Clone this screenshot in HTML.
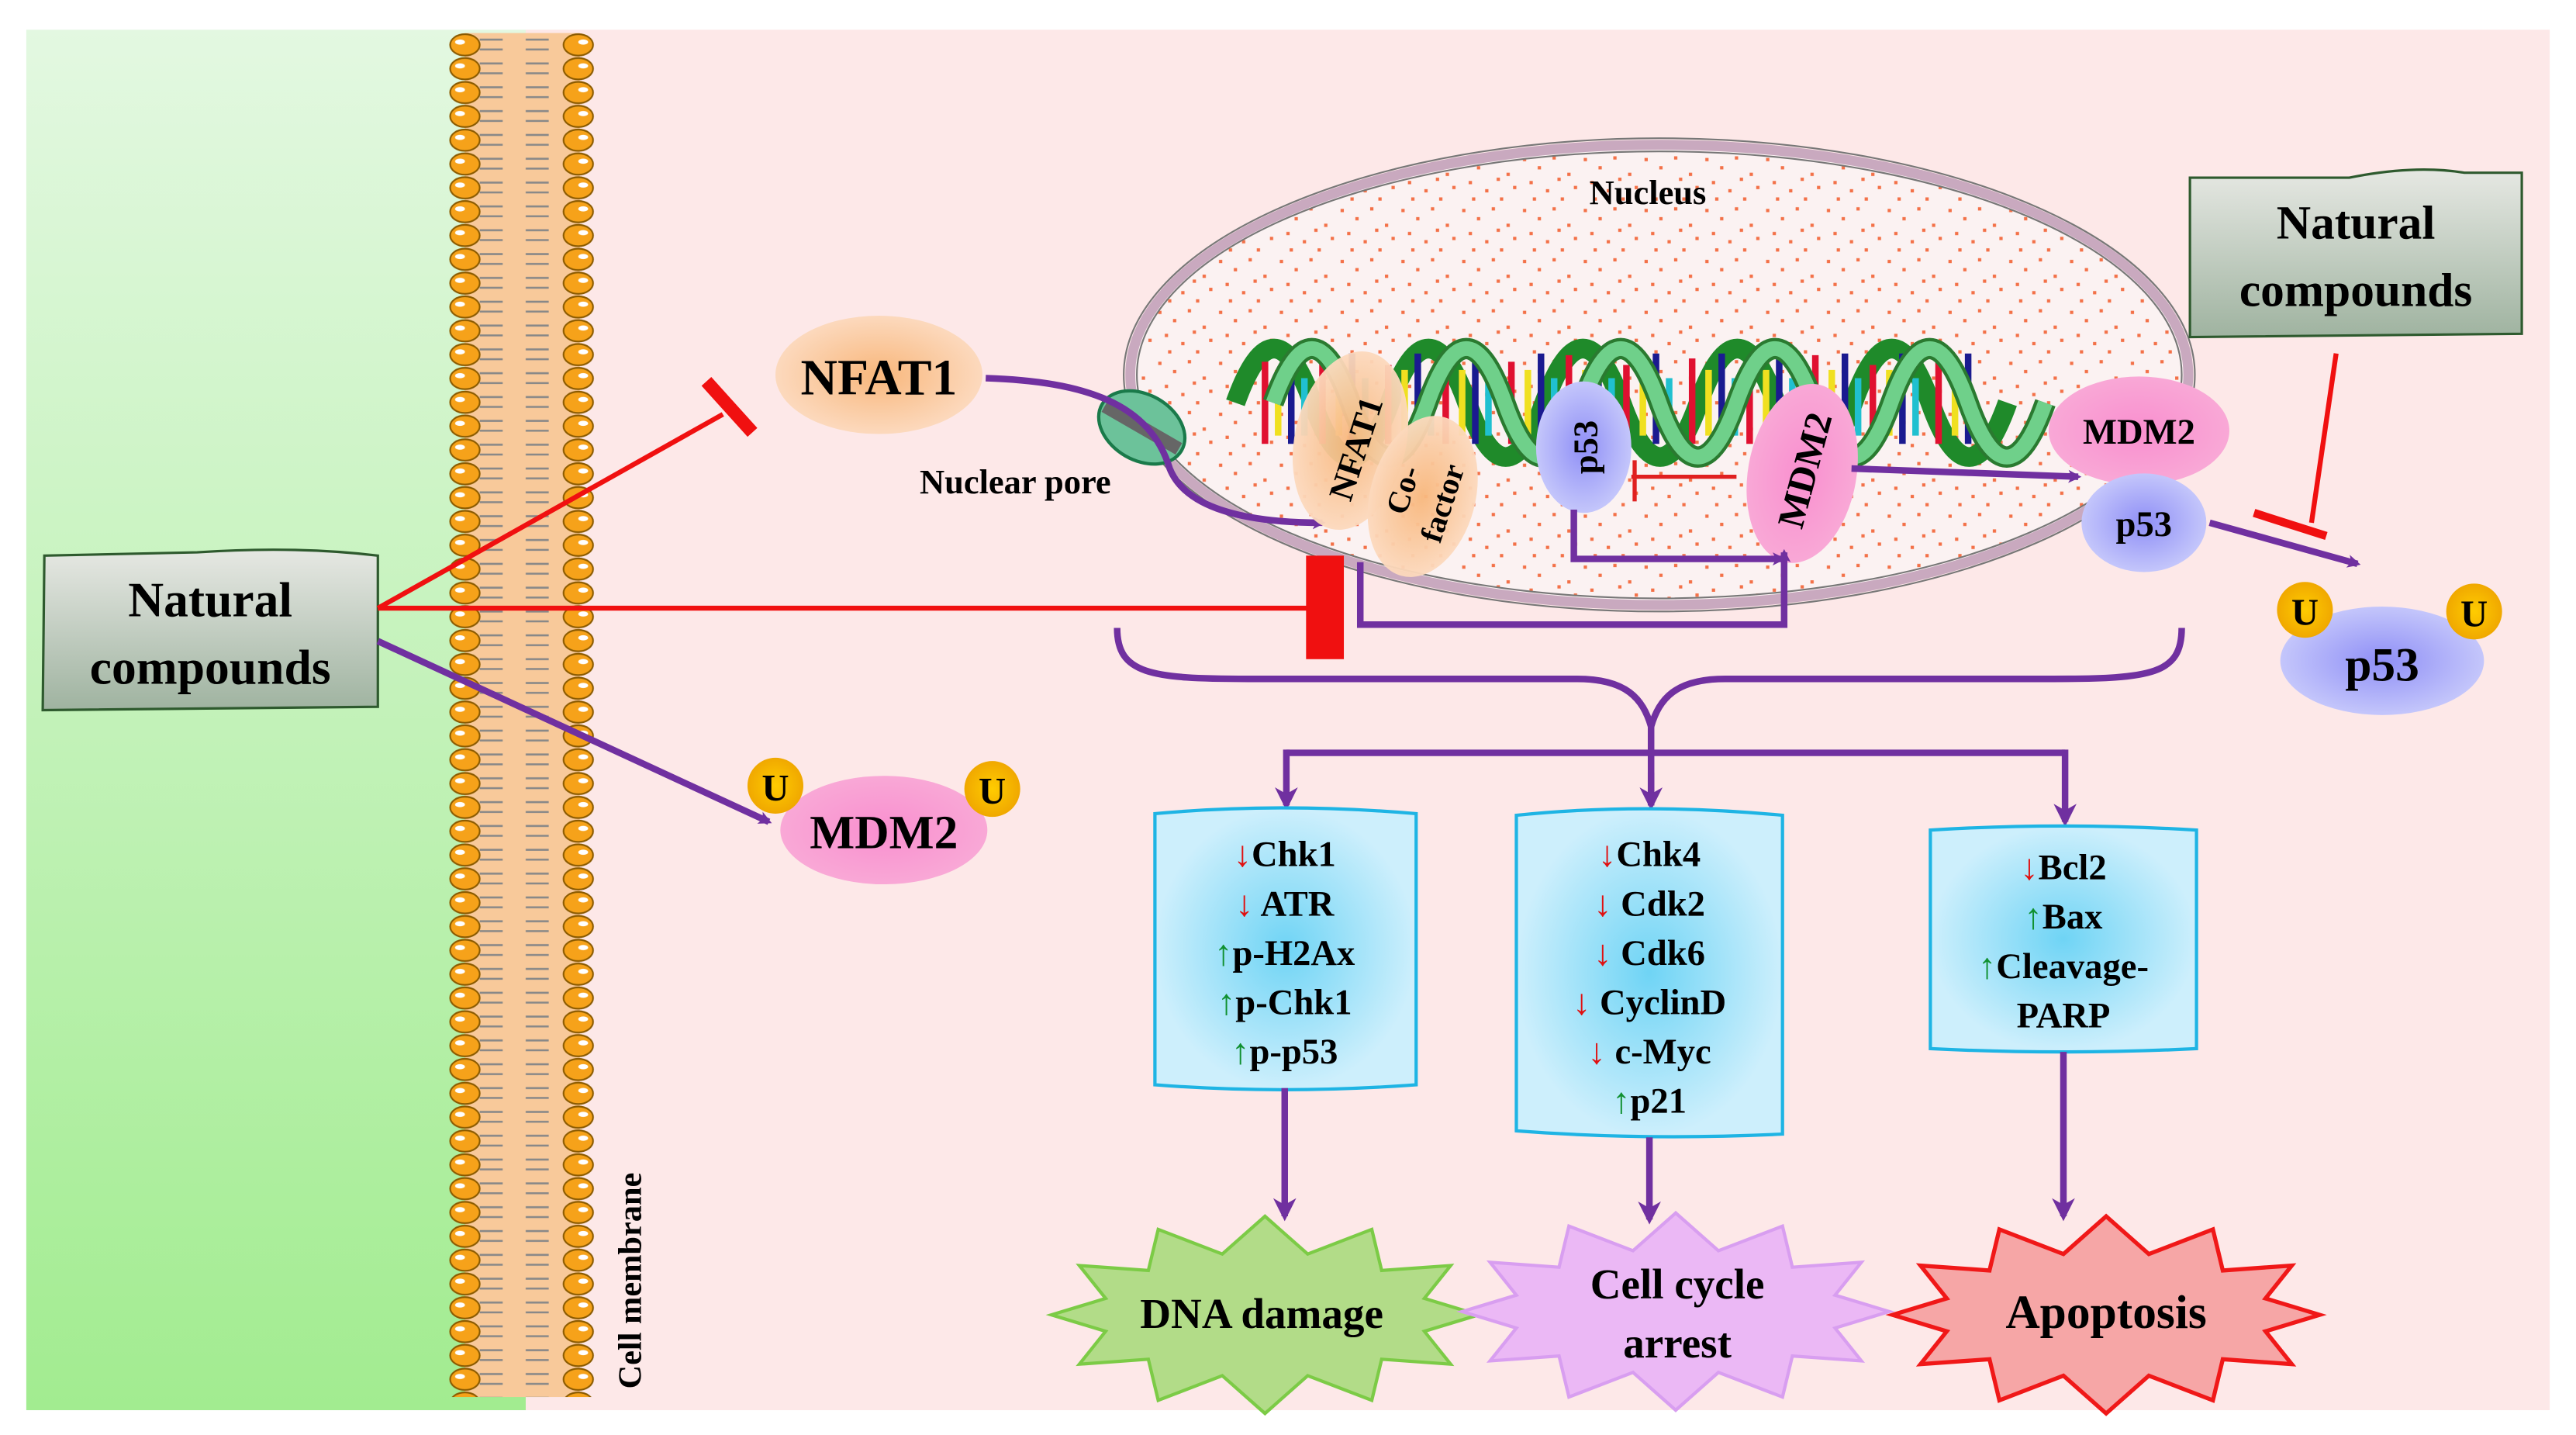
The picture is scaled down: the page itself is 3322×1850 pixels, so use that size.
<!DOCTYPE html>
<html><head><meta charset="utf-8"><style>
html,body{margin:0;padding:0;background:#fff}
svg{display:block}
text{font-family:"Liberation Serif",serif;font-weight:bold;fill:#000}
</style></head><body>
<svg width="3322" height="1850" viewBox="0 0 1568 873" xmlns="http://www.w3.org/2000/svg">
<defs>
<linearGradient id="gbg" x1="0" y1="0" x2="0" y2="1"><stop offset="0" stop-color="#e3f8e1"/><stop offset="1" stop-color="#a2ec90"/></linearGradient>
<linearGradient id="gbox" x1="0" y1="0" x2="0" y2="1"><stop offset="0" stop-color="#e6e8e3"/><stop offset="1" stop-color="#9fb3a0"/></linearGradient>
<radialGradient id="gpeach"><stop offset="0" stop-color="#f8b77c"/><stop offset="1" stop-color="#fcd9bd"/></radialGradient>
<radialGradient id="gpink"><stop offset="0" stop-color="#f98fcf"/><stop offset="1" stop-color="#f9a8d6"/></radialGradient>
<radialGradient id="gblue"><stop offset="0" stop-color="#8f8ff6"/><stop offset="1" stop-color="#c4c6fb"/></radialGradient>
<radialGradient id="gcyan"><stop offset="0" stop-color="#6fd4f5"/><stop offset="1" stop-color="#cdeffc"/></radialGradient>
<radialGradient id="ggold"><stop offset="0" stop-color="#ffcc00"/><stop offset="1" stop-color="#f0a800"/></radialGradient>
<pattern id="mem" x="272" y="20" width="100" height="14.5" patternUnits="userSpaceOnUse">
<rect x="11" y="0" width="70" height="14.5" fill="#f8c99a"/>
<path d="M20 4h14M20 10h14M48 4h14M48 10h14" stroke="#888" stroke-width="1.2" fill="none"/>
<ellipse cx="11" cy="7.2" rx="9" ry="6.5" fill="#f6a21a" stroke="#8a5a00" stroke-width="1"/>
<ellipse cx="80" cy="7.2" rx="9" ry="6.5" fill="#f6a21a" stroke="#8a5a00" stroke-width="1"/>
<ellipse cx="8" cy="5.5" rx="3" ry="1.6" fill="#fff"/>
<ellipse cx="83" cy="5.5" rx="3" ry="1.6" fill="#fff"/>
</pattern>
<pattern id="dots" x="0" y="0" width="37" height="31" patternUnits="userSpaceOnUse">
<g fill="#f25a2a">
<rect x="2" y="3" width="2" height="2"/><rect x="11" y="8" width="2" height="2"/><rect x="20" y="2" width="2" height="2"/><rect x="29" y="12" width="2" height="2"/>
<rect x="6" y="17" width="2" height="2"/><rect x="16" y="22" width="2" height="2"/><rect x="25" y="27" width="2" height="2"/><rect x="33" y="20" width="2" height="2"/>
<rect x="8" y="27" width="2" height="2"/><rect x="23" y="15" width="2" height="2"/>
</g>
</pattern>
<marker id="ap" markerWidth="8" markerHeight="8" refX="6" refY="4" orient="auto" markerUnits="userSpaceOnUse" viewBox="0 0 8 8"><path d="M0,0 L8,4 L0,8 L2,4z" fill="#7030a0"/></marker>
<marker id="ap2" markerWidth="14" markerHeight="14" refX="11" refY="7" orient="auto" markerUnits="userSpaceOnUse"><path d="M0,0 L14,7 L0,14 L4,7z" fill="#7030a0"/></marker>
</defs>

<rect x="0" y="0" width="1568" height="873" fill="#fff"/>
<rect x="16" y="18" width="330" height="840" fill="url(#gbg)"/>
<rect x="320" y="18" width="1232" height="840" fill="#fde8e8"/>
<rect x="272" y="20" width="100" height="830" fill="url(#mem)"/>
<text transform="translate(390,845) rotate(-90)" font-size="20">Cell membrane</text>

<!-- nucleus -->
<ellipse cx="1010" cy="228" rx="322" ry="140" fill="#fbf2f2" stroke="#c9a9bf" stroke-width="6"/>
<ellipse cx="1010" cy="228" rx="318" ry="136" fill="url(#dots)" opacity="0.85"/>
<ellipse cx="1010" cy="228" rx="326" ry="144" fill="none" stroke="#777" stroke-width="1"/>
<ellipse cx="1010" cy="228" rx="318" ry="136" fill="none" stroke="#777" stroke-width="1"/>
<text x="1003" y="124" font-size="21" text-anchor="middle">Nucleus</text>

<!-- DNA -->
<g>
<path d="M752,245 q23.5,-66 47,0 t47,0 t47,0 t47,0 t47,0 t47,0 t47,0 t47,0 t47,0 t47,0" fill="none" stroke="#1f8a2a" stroke-width="12"/>
<g stroke-width="4">
<path d="M770 220v50M805 215v55M845 222v48M880 218v52M920 220v50M955 216v54M990 222v48M1030 218v52M1065 220v50M1105 216v54M1140 222v48M1180 218v52" stroke="#e01030"/>
<path d="M778 225v40M815 225v40M855 225v40M890 225v40M930 225v40M965 225v40M1000 225v40M1040 225v40M1075 225v40M1115 225v40M1150 225v40M1190 225v40" stroke="#f0e020"/>
<path d="M786 215v55M823 215v55M863 215v55M898 215v55M938 215v55M973 215v55M1008 215v55M1048 215v55M1083 215v55M1123 215v55M1158 215v55M1198 215v55" stroke="#1a1a90"/>
<path d="M794 230v35M831 230v35M871 230v35M906 230v35M946 230v35M981 230v35M1016 230v35M1056 230v35M1091 230v35M1131 230v35M1166 230v35" stroke="#20c0d0"/>
</g>
<path d="M775,245 q23.5,-66 47,0 t47,0 t47,0 t47,0 t47,0 t47,0 t47,0 t47,0 t47,0 t47,0" fill="none" stroke="#2a7a30" stroke-width="13"/>
<path d="M775,245 q23.5,-66 47,0 t47,0 t47,0 t47,0 t47,0 t47,0 t47,0 t47,0 t47,0 t47,0" fill="none" stroke="#6fd08a" stroke-width="9"/>
</g>

<!-- nuclear pore -->
<g transform="translate(695,260) rotate(30)">
<ellipse cx="0" cy="0" rx="28" ry="20" fill="#6cc29a" stroke="#1a7a4a" stroke-width="2"/>
<rect x="-26" y="-4" width="52" height="8" fill="#666"/>
</g>
<text x="618" y="300" font-size="21" text-anchor="middle">Nuclear pore</text>

<!-- NFAT1 -->
<ellipse cx="535" cy="228" rx="63" ry="36" fill="url(#gpeach)"/>
<text x="535" y="240" font-size="31" text-anchor="middle">NFAT1</text>
<path d="M600,230 C660,232 700,245 712,285 C722,310 760,318 805,318" fill="none" stroke="#7030a0" stroke-width="4" marker-end="url(#ap)"/>

<ellipse cx="822" cy="268" rx="34" ry="55" fill="url(#gpeach)" opacity="0.95" transform="rotate(12 822 268)"/>
<text transform="translate(832,275) rotate(-72)" font-size="21" text-anchor="middle">NFAT1</text>
<ellipse cx="866" cy="302" rx="32" ry="50" fill="url(#gpeach)" opacity="0.95" transform="rotate(15 866 302)"/>
<text transform="translate(860,300) rotate(-72)" font-size="19" text-anchor="middle">Co-</text>
<text transform="translate(884,308) rotate(-72)" font-size="19" text-anchor="middle">factor</text>

<ellipse cx="964" cy="272" rx="29" ry="40" fill="url(#gblue)"/>
<text transform="translate(972,272) rotate(-90)" font-size="21" text-anchor="middle">p53</text>
<path d="M993,290 h64 M995,280v25" stroke="#e02020" stroke-width="2.5"/>
<ellipse cx="1097" cy="288" rx="33" ry="55" fill="url(#gpink)" transform="rotate(10 1097 288)"/>
<text transform="translate(1106,288) rotate(-75)" font-size="23" text-anchor="middle">MDM2</text>

<path d="M958,310 V340 H1085" fill="none" stroke="#7030a0" stroke-width="4" marker-end="url(#ap)"/>
<path d="M828,342 V380 H1086 V336" fill="none" stroke="#7030a0" stroke-width="4" marker-end="url(#ap)"/>
<path d="M1127,285 L1265,290" fill="none" stroke="#7030a0" stroke-width="4" marker-end="url(#ap)"/>

<ellipse cx="1302" cy="262" rx="55" ry="33" fill="url(#gpink)"/>
<text x="1302" y="270" font-size="22" text-anchor="middle">MDM2</text>
<ellipse cx="1305" cy="318" rx="38" ry="30" fill="url(#gblue)"/>
<text x="1305" y="326" font-size="22" text-anchor="middle">p53</text>
<path d="M1345,318 L1435,343" stroke="#7030a0" stroke-width="4" marker-end="url(#ap)"/>

<!-- right natural compounds -->
<path d="M1333,108 L1430,108 Q1470,100 1500,105 L1535,105 L1535,203 L1333,205 Z" fill="url(#gbox)" stroke="#2e5a2e" stroke-width="1.5"/>
<text x="1434" y="145" font-size="29" text-anchor="middle">Natural</text>
<text x="1434" y="186" font-size="29" text-anchor="middle">compounds</text>
<path d="M1422,215 L1407,318" stroke="#f01010" stroke-width="3"/>
<path d="M1372,312 L1416,326" stroke="#f01010" stroke-width="5"/>

<ellipse cx="1450" cy="402" rx="62" ry="33" fill="url(#gblue)"/>
<text x="1450" y="414" font-size="29" text-anchor="middle">p53</text>
<circle cx="1403" cy="371" r="17" fill="url(#ggold)"/><text x="1403" y="380" font-size="23" text-anchor="middle">U</text>
<circle cx="1506" cy="372" r="17" fill="url(#ggold)"/><text x="1506" y="381" font-size="23" text-anchor="middle">U</text>

<!-- left natural compounds -->
<path d="M27,338 L120,336 Q180,332 230,338 L230,430 L26,432 Z" fill="url(#gbox)" stroke="#2e5a2e" stroke-width="1.5"/>
<text x="128" y="375" font-size="30" text-anchor="middle">Natural</text>
<text x="128" y="416" font-size="30" text-anchor="middle">compounds</text>
<path d="M230,370 L440,252" stroke="#f01010" stroke-width="3"/>
<path d="M430,232 L458,263" stroke="#f01010" stroke-width="8"/>
<path d="M230,370 L800,370" stroke="#f01010" stroke-width="3"/>
<rect x="795" y="338" width="23" height="63" fill="#f01010"/>
<path d="M230,390 L468,500" stroke="#7030a0" stroke-width="4" marker-end="url(#ap)"/>

<ellipse cx="538" cy="505" rx="63" ry="33" fill="url(#gpink)"/>
<text x="538" y="516" font-size="29" text-anchor="middle">MDM2</text>
<circle cx="472" cy="478" r="17" fill="url(#ggold)"/><text x="472" y="487" font-size="23" text-anchor="middle">U</text>
<circle cx="604" cy="480" r="17" fill="url(#ggold)"/><text x="604" y="489" font-size="23" text-anchor="middle">U</text>

<!-- brace -->
<path d="M680,382 C680,410 700,413 760,413 L960,413 C990,413 1000,425 1005,442 C1010,425 1020,413 1050,413 L1250,413 C1310,413 1328,410 1328,382" fill="none" stroke="#7030a0" stroke-width="4"/>
<path d="M1005,440 V490 M783,458 H1257" stroke="#7030a0" stroke-width="4" fill="none"/>
<path d="M783,456 V490" stroke="#7030a0" stroke-width="4" marker-end="url(#ap2)"/>
<path d="M1005,470 V490" stroke="#7030a0" stroke-width="4" marker-end="url(#ap2)"/>
<path d="M1257,456 V500" stroke="#7030a0" stroke-width="4" marker-end="url(#ap2)"/>

<!-- boxes -->
<path d="M703,495 Q780,488 862,495 L862,660 Q780,666 703,660 Z" fill="url(#gcyan)" stroke="#1eb4e4" stroke-width="2"/>
<path d="M923,496 Q1000,488 1085,496 L1085,690 Q1000,694 923,688 Z" fill="url(#gcyan)" stroke="#1eb4e4" stroke-width="2"/>
<path d="M1175,505 Q1255,500 1337,505 L1337,638 Q1255,642 1175,638 Z" fill="url(#gcyan)" stroke="#1eb4e4" stroke-width="2"/>
<g font-size="22" text-anchor="middle">
<text x="782" y="527"><tspan style="fill:#e01010">↓</tspan>Chk1</text>
<text x="782" y="557"><tspan style="fill:#e01010">↓</tspan> ATR</text>
<text x="782" y="587"><tspan style="fill:#109030">↑</tspan>p-H2Ax</text>
<text x="782" y="617"><tspan style="fill:#109030">↑</tspan>p-Chk1</text>
<text x="782" y="647"><tspan style="fill:#109030">↑</tspan>p-p53</text>
<text x="1004" y="527"><tspan style="fill:#e01010">↓</tspan>Chk4</text>
<text x="1004" y="557"><tspan style="fill:#e01010">↓</tspan> Cdk2</text>
<text x="1004" y="587"><tspan style="fill:#e01010">↓</tspan> Cdk6</text>
<text x="1004" y="617"><tspan style="fill:#e01010">↓</tspan> CyclinD</text>
<text x="1004" y="647"><tspan style="fill:#e01010">↓</tspan> c-Myc</text>
<text x="1004" y="677"><tspan style="fill:#109030">↑</tspan>p21</text>
<text x="1256" y="535"><tspan style="fill:#e01010">↓</tspan>Bcl2</text>
<text x="1256" y="565"><tspan style="fill:#109030">↑</tspan>Bax</text>
<text x="1256" y="595"><tspan style="fill:#109030">↑</tspan>Cleavage-</text>
<text x="1256" y="625">PARP</text>
</g>
<path d="M782,662 V740" stroke="#7030a0" stroke-width="4" marker-end="url(#ap2)"/>
<path d="M1004,692 V742" stroke="#7030a0" stroke-width="4" marker-end="url(#ap2)"/>
<path d="M1256,640 V740" stroke="#7030a0" stroke-width="4" marker-end="url(#ap2)"/>

<!-- stars -->
<polygon points="900,800 867,810 883,830 841,827 835,852 796,837 770,860 744,837 705,852 699,827 657,830 673,810 640,800 673,790 657,770 699,773 705,748 744,763 770,740 796,763 835,748 841,773 883,770 867,790" fill="#b2dc88" stroke="#7ccb46" stroke-width="2"/>
<g transform="translate(250,-2)">
<polygon points="900,800 867,810 883,830 841,827 835,852 796,837 770,860 744,837 705,852 699,827 657,830 673,810 640,800 673,790 657,770 699,773 705,748 744,763 770,740 796,763 835,748 841,773 883,770 867,790" fill="#ebb8f5" stroke="#d89ef0" stroke-width="2"/>
</g>
<g transform="translate(512,0)">
<polygon points="900,800 867,810 883,830 841,827 835,852 796,837 770,860 744,837 705,852 699,827 657,830 673,810 640,800 673,790 657,770 699,773 705,748 744,763 770,740 796,763 835,748 841,773 883,770 867,790" fill="#f6a6a6" stroke="#f01818" stroke-width="2.5"/>
</g>
<text x="768" y="808" font-size="26" text-anchor="middle">DNA damage</text>
<text x="1021" y="790" font-size="26" text-anchor="middle">Cell cycle</text>
<text x="1021" y="826" font-size="26" text-anchor="middle">arrest</text>
<text x="1282" y="808" font-size="29" text-anchor="middle">Apoptosis</text>
</svg>
</body></html>
